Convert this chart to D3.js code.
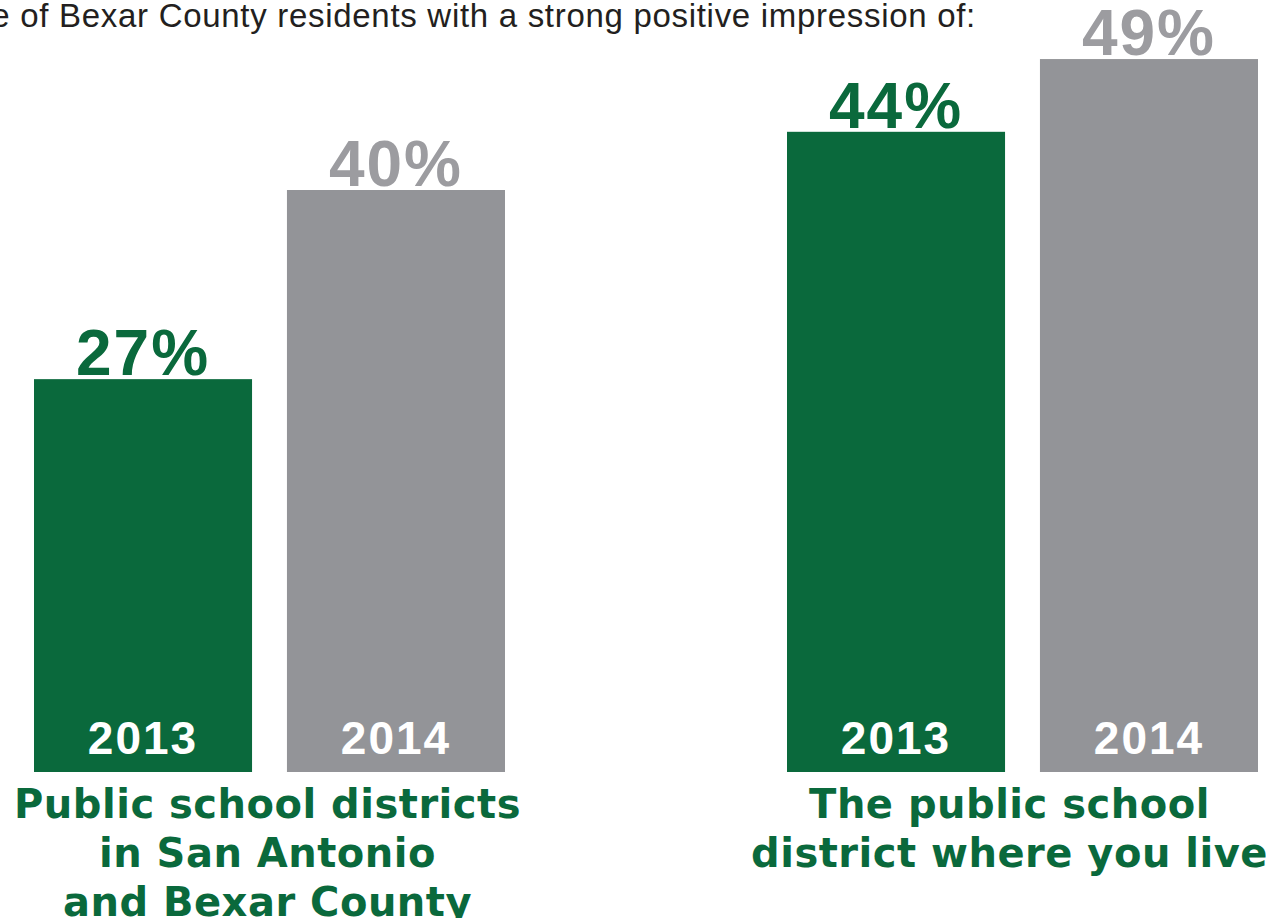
<!DOCTYPE html>
<html>
<head>
<meta charset="utf-8">
<script src="https://cdn.jsdelivr.net/npm/d3@7"></script>
<style>
  body { margin: 0; background: #fff; }
  svg { display: block; }
</style>
</head>
<body>
<div id="chart"></div>
<script>
// Chart data
const title = "Percentage of Bexar County residents with a strong positive impression of:";
const groups = ["districts", "yours"];
const groupLabels = [
    ["Public school districts", "in San Antonio", "and Bexar County"],
    ["The public school", "district where you live"]
];
const years = ["2013", "2014"];
const values2013 = [27, 44];
const values2014 = [40, 49];

const green = "#0a693c";
const grey = "#939498";
const greyText = "#9c9ca0";

const width = 1266, height = 918;
const baseline = 772;

const svg = d3.select("#chart")
    .append("svg")
    .attr("width", width)
    .attr("height", height);

// Scales
const x0 = d3.scaleBand()
    .domain(groups)
    .range([34, 1258])
    .paddingInner(0.3745);

const x1 = d3.scaleBand()
    .domain(years)
    .range([0, x0.bandwidth()])
    .paddingInner(0.138);

const y = d3.scaleLinear()
    .domain([0, 50])
    .range([baseline, baseline - 50 * 14.55]);

// Title (cut at left edge like the original)
svg.append("text")
    .attr("x", 976)
    .attr("y", 27)
    .attr("text-anchor", "end")
    .style("font-family", "'Liberation Sans', Arial, sans-serif")
    .style("font-size", "33px")
    .style("letter-spacing", "0.7px")
    .style("fill", "#231f20")
    .text(title);

// Flatten the data
const bars = [];
groups.forEach((g, i) => {
    bars.push({ group: g, year: "2013", value: values2013[i] });
    bars.push({ group: g, year: "2014", value: values2014[i] });
});

const barG = svg.append("g");

barG.selectAll(".bar")
    .data(bars)
    .enter()
    .append("rect")
    .attr("class", "bar")
    .attr("x", d => x0(d.group) + x1(d.year))
    .attr("y", d => y(d.value))
    .attr("width", x1.bandwidth())
    .attr("height", d => y(0) - y(d.value))
    .style("fill", d => d.year === "2013" ? green : grey);

// Value labels on top
barG.selectAll(".value-label")
    .data(bars)
    .enter()
    .append("text")
    .attr("class", "value-label")
    .attr("x", d => x0(d.group) + x1(d.year) + x1.bandwidth() / 2)
    .attr("y", d => y(d.value) - 4)
    .attr("text-anchor", "middle")
    .style("font-family", "'Liberation Sans', Arial, sans-serif")
    .style("font-weight", "bold")
    .style("font-size", "64px")
    .style("letter-spacing", "2px")
    .style("fill", d => d.year === "2013" ? green : greyText)
    .text(d => d.value + "%");

// Year labels inside bars
barG.selectAll(".year-label")
    .data(bars)
    .enter()
    .append("text")
    .attr("class", "year-label")
    .attr("x", d => x0(d.group) + x1(d.year) + x1.bandwidth() / 2)
    .attr("y", baseline - 18)
    .attr("text-anchor", "middle")
    .style("font-family", "'Liberation Sans', Arial, sans-serif")
    .style("font-weight", "bold")
    .style("font-size", "46px")
    .style("letter-spacing", "2px")
    .style("fill", "#ffffff")
    .text(d => d.year);

// Category labels under each group (second one sits a bit left of centre)
const labelShift = [-2, -13];
groups.forEach((g, i) => {
    const cx = x0(g) + x0.bandwidth() / 2 + labelShift[i];
    const t = svg.append("text")
        .attr("x", cx)
        .attr("y", 818)
        .attr("text-anchor", "middle")
        .style("font-family", "'DejaVu Sans', sans-serif")
        .style("font-weight", "bold")
        .style("font-size", "40px")
        .style("letter-spacing", "0.5px")
        .style("fill", green);
    groupLabels[i].forEach((line, j) => {
        t.append("tspan")
            .attr("x", cx)
            .attr("dy", j === 0 ? 0 : 49)
            .text(line);
    });
});
</script>
</body>
</html>
